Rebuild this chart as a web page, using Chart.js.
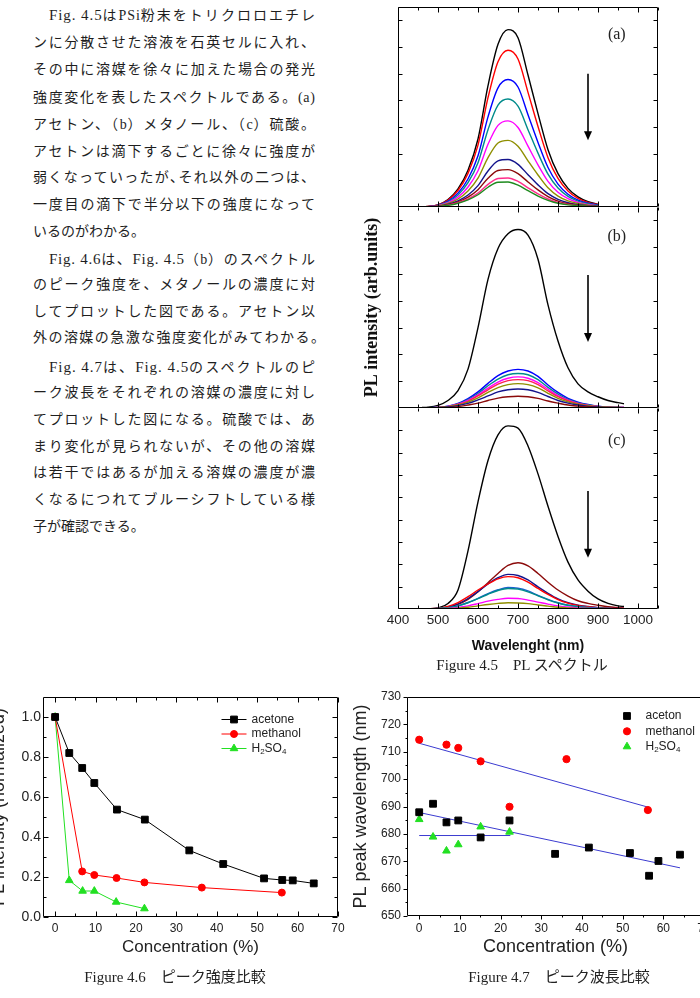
<!DOCTYPE html>
<html><head><meta charset="utf-8">
<script src="https://cdn.jsdelivr.net/npm/chart.js@4.4.1/dist/chart.umd.min.js"></script>
<style>
html,body{margin:0;padding:0;background:#fff;}
body{width:700px;height:998px;position:relative;overflow:hidden;}
.ln{position:absolute;height:20px;line-height:20px;font-family:"Liberation Serif","Noto Sans CJK JP",serif;font-size:14px;color:#1e1e1e;white-space:nowrap;}
.ln .lat{font-size:15px;}
canvas{position:absolute;}
.cap{position:absolute;font-family:"Liberation Serif","Noto Sans CJK JP",serif;font-size:15px;color:#222;white-space:nowrap;transform:translate(-50%,-50%);}
</style>
</head><body>
<div id="text"></div>
<canvas id="pa" width="320" height="208" style="left:350px;top:0px"></canvas>
<canvas id="pb" width="320" height="202" style="left:350px;top:207px"></canvas>
<canvas id="pc" width="320" height="250" style="left:350px;top:408px"></canvas>
<canvas id="f46" width="380" height="318" style="left:-30px;top:680px"></canvas>
<canvas id="f47" width="380" height="318" style="left:350px;top:680px"></canvas>
<div class="cap" style="left:522px;top:663px">Figure 4.5　PL スペクトル</div>
<div class="cap" style="left:175px;top:975px">Figure 4.6　ピーク強度比較</div>
<div class="cap" style="left:559px;top:975px">Figure 4.7　ピーク波長比較</div>
<script>
// ---------------- Figure 4.5 : PL spectra ----------------
const WL_A = [450,475,500,525,550,575,600,625,650,675,700,725,750,775,800,825,850,875,900];
const A_BLACK   = [0.00,0.02,0.08,0.28,0.68,1.38,2.55,4.55,6.10,6.65,6.35,4.95,3.50,2.15,1.25,0.70,0.38,0.20,0.10];
const A_RED     = [0.00,0.02,0.08,0.26,0.62,1.26,2.32,4.10,5.45,5.88,5.55,4.30,3.02,1.85,1.07,0.60,0.32,0.17,0.09];
const A_BLUE    = [0.00,0.01,0.07,0.22,0.52,1.05,1.92,3.38,4.47,4.78,4.50,3.46,2.42,1.48,0.86,0.48,0.26,0.14,0.07];
const A_TEAL    = [0.00,0.01,0.06,0.19,0.45,0.91,1.66,2.90,3.82,4.05,3.78,2.90,2.02,1.23,0.71,0.40,0.22,0.12,0.06];
const A_MAGENTA = [0.00,0.01,0.05,0.16,0.37,0.75,1.36,2.35,3.06,3.23,2.98,2.28,1.58,0.96,0.55,0.31,0.17,0.09,0.05];
const A_OLIVE   = [0.00,0.01,0.04,0.13,0.30,0.60,1.08,1.85,2.40,2.50,2.28,1.73,1.20,0.72,0.41,0.23,0.13,0.07,0.04];
const A_NAVY    = [0.00,0.01,0.03,0.10,0.23,0.45,0.80,1.35,1.73,1.78,1.60,1.21,0.83,0.50,0.29,0.16,0.09,0.05,0.03];
const A_MAROON  = [0.00,0.01,0.03,0.08,0.19,0.37,0.65,1.08,1.37,1.40,1.25,0.94,0.64,0.39,0.22,0.12,0.07,0.04,0.02];
const A_PINK    = [0.00,0.01,0.02,0.07,0.16,0.30,0.52,0.85,1.07,1.09,0.96,0.72,0.49,0.30,0.17,0.10,0.05,0.03,0.02];
const A_GREEN   = [0.00,0.01,0.02,0.06,0.14,0.27,0.46,0.74,0.93,0.94,0.82,0.61,0.41,0.25,0.14,0.08,0.05,0.03,0.02];

const WL_BC = [460,475,500,525,550,575,600,625,650,675,700,725,750,775,800,825,850,875,900,925,950,965];
const B_BLACK   = [0.02,0.03,0.10,0.28,0.65,1.45,3.00,4.80,5.95,6.50,6.66,6.45,5.55,3.85,2.50,1.50,0.90,0.60,0.42,0.28,0.20,0.16];
const B_BLUE    = [0.00,0.01,0.03,0.07,0.17,0.35,0.60,0.92,1.21,1.38,1.44,1.38,1.18,0.86,0.58,0.36,0.22,0.13,0.07,0.04,0.03,0.02];
const B_TEAL    = [0.00,0.01,0.03,0.06,0.15,0.31,0.54,0.83,1.08,1.24,1.29,1.24,1.06,0.77,0.52,0.32,0.19,0.12,0.06,0.04,0.03,0.02];
const B_MAGENTA = [0.00,0.01,0.02,0.06,0.14,0.28,0.49,0.74,0.97,1.11,1.16,1.11,0.95,0.70,0.46,0.29,0.17,0.10,0.06,0.03,0.02,0.02];
const B_RED     = [0.00,0.01,0.02,0.05,0.13,0.25,0.45,0.68,0.89,1.02,1.06,1.02,0.87,0.64,0.42,0.27,0.16,0.10,0.05,0.03,0.02,0.02];
const B_OLIVE   = [0.00,0.00,0.02,0.05,0.11,0.22,0.38,0.58,0.76,0.87,0.91,0.87,0.75,0.55,0.36,0.23,0.14,0.08,0.05,0.03,0.02,0.01];
const B_NAVY    = [0.00,0.00,0.01,0.04,0.09,0.17,0.30,0.45,0.60,0.68,0.71,0.68,0.58,0.43,0.28,0.18,0.11,0.06,0.04,0.02,0.01,0.01];
const B_MAROON  = [0.00,0.00,0.01,0.02,0.05,0.11,0.18,0.28,0.37,0.42,0.44,0.42,0.36,0.26,0.18,0.11,0.07,0.04,0.02,0.01,0.01,0.01];

const C_BLACK   = [0.00,0.01,0.05,0.25,0.85,2.60,4.80,6.65,7.80,8.20,8.10,7.30,6.05,4.60,3.25,2.10,1.30,0.80,0.45,0.25,0.14,0.11];
const C_MAROON  = [0.00,0.00,0.02,0.08,0.21,0.43,0.77,1.18,1.59,1.95,2.07,1.93,1.59,1.20,0.85,0.58,0.37,0.25,0.17,0.10,0.06,0.04];
const C_NAVY    = [0.00,0.01,0.03,0.09,0.23,0.47,0.78,1.12,1.40,1.55,1.50,1.30,0.99,0.70,0.45,0.28,0.17,0.11,0.06,0.04,0.02,0.02];
const C_RED     = [0.00,0.01,0.04,0.12,0.29,0.55,0.85,1.12,1.35,1.45,1.40,1.20,0.92,0.65,0.42,0.26,0.16,0.10,0.06,0.04,0.02,0.02];
const C_BLUE    = [0.00,0.00,0.02,0.06,0.14,0.29,0.48,0.69,0.86,0.96,0.93,0.81,0.61,0.43,0.28,0.17,0.11,0.07,0.04,0.02,0.01,0.01];
const C_TEAL    = [0.00,0.00,0.02,0.06,0.14,0.28,0.46,0.66,0.83,0.92,0.89,0.77,0.59,0.41,0.27,0.17,0.10,0.06,0.04,0.02,0.01,0.01];
const C_MAGENTA = [0.00,0.00,0.01,0.03,0.07,0.14,0.24,0.35,0.43,0.48,0.47,0.40,0.31,0.22,0.14,0.09,0.05,0.03,0.02,0.01,0.01,0.00];
const C_OLIVE   = [0.00,0.00,0.01,0.02,0.04,0.08,0.14,0.20,0.25,0.28,0.27,0.24,0.18,0.13,0.08,0.05,0.03,0.02,0.01,0.01,0.00,0.00];

const WL_TICKS = [400,500,600,700,800,900,1000];
const WL_MINOR = [450,550,650,750,850,950,1050];
const PANEL_AB_TICKS = [1,2,3,4,5,6,7];
const PANEL_C_TICKS = [1,2,3,4,5,6,7,8];

// ---------------- Figure 4.6 : peak intensity ----------------
const CONC_ACETONE_46  = [0, 3.5, 6.7, 9.7, 15.3, 22.2, 33.2, 41.6, 51.7, 56.2, 58.8, 64.0];
const INT_ACETONE      = [1.0, 0.82, 0.745, 0.67, 0.537, 0.487, 0.333, 0.265, 0.193, 0.185, 0.183, 0.168];
const CONC_METHANOL_46 = [0, 6.7, 9.7, 15.2, 22.1, 36.3, 56.1];
const INT_METHANOL     = [1.0, 0.228, 0.21, 0.195, 0.173, 0.147, 0.122];
const CONC_H2SO4_46    = [0, 3.5, 6.8, 9.7, 15.1, 22.1];
const INT_H2SO4        = [1.0, 0.183, 0.13, 0.13, 0.075, 0.042];

// ---------------- Figure 4.7 : peak wavelength ----------------
const CONC_ACETONE_47  = [0, 3.4, 6.7, 9.6, 15.1, 22.2, 33.4, 41.7, 51.8, 56.5, 58.8, 64.1];
const PEAK_ACETONE     = [687.9, 691.0, 684.2, 684.9, 678.7, 684.9, 672.7, 675.0, 673.0, 664.7, 670.1, 672.4];
const CONC_METHANOL_47 = [0, 6.7, 9.6, 15.1, 22.2, 36.2, 56.2];
const PEAK_METHANOL    = [714.4, 712.6, 711.4, 706.5, 689.9, 707.3, 688.7];
const CONC_H2SO4_47    = [0, 3.4, 6.7, 9.6, 15.1, 22.2];
const PEAK_H2SO4       = [685.3, 678.9, 673.8, 676.1, 682.6, 680.7];
const FIT_ACETONE_X  = [0, 64.1];  const FIT_ACETONE_Y  = [687.8, 667.6];
const FIT_METHANOL_X = [0, 56.4];  const FIT_METHANOL_Y = [713.1, 689.7];
const FIT_H2SO4_X    = [0, 22.4];  const FIT_H2SO4_Y    = [679.4, 679.4];

const CONC_TICKS = [0,10,20,30,40,50,60,70];
const CONC_MINOR = [5,15,25,35,45,55,65];
const INT_TICKS = [0,0.2,0.4,0.6,0.8,1.0];
const INT_MINOR = [0.1,0.3,0.5,0.7,0.9];
const WAVE_TICKS = [650,660,670,680,690,700,710,720,730];
const WAVE_MINOR = [655,665,675,685,695,705,715,725];

// ---------------- body text ----------------
const TEXT_LINES = [
 ["Fig. 4.5はPSi粉末をトリクロロエチレ",1,1,15],
 ["ンに分散させた溶液を石英セルに入れ、",0,1,42.7],
 ["その中に溶媒を徐々に加えた場合の発光",0,1,70],
 ["強度変化を表したスペクトルである。(a)",0,1,97.5],
 ["アセトン、（b）メタノール、（c）硫酸。",0,1,125],
 ["アセトンは滴下するごとに徐々に強度が",0,1,151.7],
 ["弱くなっていったが､それ以外の二つは、",0,1,178.3],
 ["一度目の滴下で半分以下の強度になって",0,1,205],
 ["いるのがわかる。",0,0,231.7],
 ["Fig. 4.6は、Fig. 4.5（b）のスペクトル",1,1,258.5],
 ["のピーク強度を、メタノールの濃度に対",0,1,285],
 ["してプロットした図である。アセトン以",0,1,311.7],
 ["外の溶媒の急激な強度変化がみてわかる。",0,2,338.3],
 ["Fig. 4.7は、Fig. 4.5のスペクトルのピ",1,1,367],
 ["ーク波長をそれぞれの溶媒の濃度に対し",0,1,393.3],
 ["てプロットした図になる。硫酸では、あ",0,1,420],
 ["まり変化が見られないが、その他の溶媒",0,1,446.7],
 ["は若干ではあるが加える溶媒の濃度が濃",0,1,473.3],
 ["くなるにつれてブルーシフトしている様",0,1,500],
 ["子が確認できる。",0,0,526.7]
];
(function(){
  const host = document.getElementById('text');
  const LAT_W = 0.45;
  TEXT_LINES.forEach(([t, ind, just, cy]) => {
    const d = document.createElement('div');
    d.className = 'ln';
    const left = ind ? 49 : 33;
    d.style.left = left + 'px';
    d.style.top = (cy - 10) + 'px';
    const runs = t.match(/[\x00-\x7F]+|[^\x00-\x7F]+/g);
    const spans = [];
    runs.forEach(r => {
      const s = document.createElement('span');
      s.textContent = r;
      const isLat = !/[^\x00-\x7F]/.test(r);
      if (isLat && r.length > 3) s.className = 'lat';
      d.appendChild(s);
      spans.push([s, isLat, [...r].length]);
    });
    host.appendChild(d);
    if (just) {
      const target = (just === 2 ? 325 : 315) - left;
      const nat = d.getBoundingClientRect().width;
      let w = 0;
      spans.forEach(([s, lat, n]) => { w += (lat ? LAT_W : 1) * n; });
      w -= /[^\x00-\x7F]$/.test(t) ? 1 : LAT_W;
      const ls = (target - nat) / Math.max(w, 1);
      spans.forEach(([s, lat]) => { s.style.letterSpacing = (lat ? ls * LAT_W : ls) + 'px'; });
    }
  });
})();

// ---------------- plugins ----------------
function crisp(v){ return Math.round(v) + 0.5; }
const framePlugin = {
  id: 'frame',
  afterDatasetsDraw(chart, args, o) {
    if (!o || !o.box) return;
    const {ctx, chartArea: a, scales} = chart;
    const L = crisp(a.left), R = crisp(a.right - 1), T = crisp(a.top), B = crisp(a.bottom - 1);
    ctx.save();
    ctx.strokeStyle = '#000';
    ctx.lineWidth = 1;
    ctx.beginPath();
    if (o.box.includes('l')) { ctx.moveTo(L, T); ctx.lineTo(L, B); }
    if (o.box.includes('r')) { ctx.moveTo(R, T); ctx.lineTo(R, B); }
    if (o.box.includes('t')) { ctx.moveTo(L, T); ctx.lineTo(R, T); }
    if (o.box.includes('b')) { ctx.moveTo(L, B); ctx.lineTo(R, B); }
    (o.marks || []).forEach(m => {
      const sc = scales[m.axis];
      m.values.forEach(v => {
        if (v < sc.min || v > sc.max) return;
        const p = crisp(sc.getPixelForValue(v));
        const s = m.dir === 'in' ? 1 : -1;
        m.sides.forEach(side => {
          if (side === 'b') { ctx.moveTo(p, B); ctx.lineTo(p, B - s*m.len); }
          if (side === 't') { ctx.moveTo(p, T); ctx.lineTo(p, T + s*m.len); }
          if (side === 'l') { ctx.moveTo(L, p); ctx.lineTo(L + s*m.len, p); }
          if (side === 'r') { ctx.moveTo(R, p); ctx.lineTo(R - s*m.len, p); }
        });
      });
    });
    ctx.stroke();
    ctx.restore();
  }
};
const decoPlugin = {
  id: 'deco',
  afterDatasetsDraw(chart, args, o) {
    if (!o || !o.arrow) return;
    const xs = chart.scales.x, ys = chart.scales.y, ctx = chart.ctx;
    const x = Math.round(xs.getPixelForValue(o.arrow.x));
    const y1 = ys.getPixelForValue(o.arrow.from), y2 = ys.getPixelForValue(o.arrow.to);
    ctx.save();
    ctx.strokeStyle = '#000'; ctx.fillStyle = '#000'; ctx.lineWidth = 1.6;
    ctx.beginPath(); ctx.moveTo(x, y1); ctx.lineTo(x, y2 - 7); ctx.stroke();
    ctx.beginPath(); ctx.moveTo(x - 4, y2 - 9); ctx.lineTo(x + 4, y2 - 9); ctx.lineTo(x, y2); ctx.closePath(); ctx.fill();
    ctx.font = '16px "Liberation Serif", serif';
    ctx.textAlign = 'center'; ctx.textBaseline = 'middle';
    ctx.fillStyle = '#222';
    ctx.fillText(o.label.text, xs.getPixelForValue(o.label.x), ys.getPixelForValue(o.label.y));
    ctx.restore();
  }
};
function drawMarker(ctx, style, x, y, r, fill, stroke) {
  ctx.save();
  ctx.fillStyle = fill; ctx.strokeStyle = stroke; ctx.lineWidth = 1;
  ctx.beginPath();
  if (style === 'rect') {
    const h = r * Math.SQRT1_2;
    ctx.rect(x - h, y - h, 2*h, 2*h);
  } else if (style === 'triangle') {
    for (let k = 0; k < 3; k++) {
      const ang = -Math.PI/2 + k * 2*Math.PI/3;
      const px = x + Math.cos(ang)*r, py = y + Math.sin(ang)*r;
      if (k === 0) ctx.moveTo(px, py); else ctx.lineTo(px, py);
    }
    ctx.closePath();
  } else {
    ctx.arc(x, y, r, 0, Math.PI*2);
  }
  ctx.fill(); ctx.stroke();
  ctx.restore();
}
function drawRich(ctx, text, x, y, size, family) {
  let cx = x;
  const parts = [];
  for (let i = 0; i < text.length; i++) {
    if (text[i] === '_' && i + 1 < text.length) { parts.push([text[i+1], true]); i++; }
    else parts.push([text[i], false]);
  }
  ctx.textBaseline = 'middle'; ctx.textAlign = 'left';
  parts.forEach(([ch, sub]) => {
    ctx.font = (sub ? Math.round(size*0.68) : size) + 'px ' + family;
    ctx.fillText(ch, cx, sub ? y + size*0.3 : y);
    cx += ctx.measureText(ch).width;
  });
}
const keyPlugin = {
  id: 'key',
  afterDatasetsDraw(chart, args, o) {
    if (!o || !o.items) return;
    const a = chart.chartArea, ctx = chart.ctx;
    o.items.forEach((dsIndex, i) => {
      const ds = chart.data.datasets[dsIndex];
      const cx = a.left + o.dx, cy = a.top + o.dy + i * o.step;
      if (o.lineLen) {
        ctx.save(); ctx.strokeStyle = ds.borderColor; ctx.lineWidth = ds.borderWidth;
        ctx.beginPath(); ctx.moveTo(cx - o.lineLen/2, cy); ctx.lineTo(cx + o.lineLen/2, cy); ctx.stroke(); ctx.restore();
      }
      drawMarker(ctx, ds.pointStyle, cx, cy, ds.pointRadius, ds.pointBackgroundColor, ds.pointBorderColor);
      ctx.save(); ctx.fillStyle = '#222';
      drawRich(ctx, ds.label, cx + o.textDx, cy, o.size, '"Liberation Sans", Arial, sans-serif');
      ctx.restore();
    });
  }
};
Chart.register(framePlugin, decoPlugin, keyPlugin);
Chart.defaults.font.family = '"Liberation Sans", Arial, sans-serif';
Chart.defaults.color = '#222';

const SANS = '"Liberation Sans", Arial, sans-serif';
function pts(xs, ys) { return xs.map((x, i) => ({x: x, y: ys[i]})); }

// ---------------- spectrum panels ----------------
function panel(id, wl, series, yMax, yTicks, cfg) {
  const datasets = series.map(s => ({
    data: pts(wl, s[0]), borderColor: s[1], borderWidth: 1.4, pointRadius: 0,
    cubicInterpolationMode: 'monotone', fill: false
  }));
  const xAxis = {type: 'linear', min: 400, max: 1050, display: !!cfg.xTitle,
    grid: {display: false, drawTicks: false}, border: {display: false},
    afterBuildTicks: s => { s.ticks = WL_TICKS.map(v => ({value: v})); },
    ticks: {font: {family: SANS, size: 13.5}, color: '#222', padding: 3, maxRotation: 0, autoSkip: false,
            callback: v => String(v)}
  };
  if (cfg.xTitle) {
    xAxis.title = {display: true, text: cfg.xTitle, font: {family: SANS, size: 14, weight: 'bold'}, color: '#111', padding: {top: 0, bottom: 3}};
    xAxis.afterFit = s => { s.height = 49; };
  }
  const yAxis = {type: 'linear', min: 0, max: yMax, display: !!cfg.yTitle,
    grid: {display: false, drawTicks: false}, border: {display: false}, ticks: {display: false}};
  if (cfg.yTitle) {
    yAxis.title = {display: true, text: cfg.yTitle, font: {family: '"Liberation Serif", serif', size: 18, weight: 'bold'}, color: '#111', padding: {top: 12, bottom: 0}};
    yAxis.afterFit = s => { s.width = 48; };
  }
  return new Chart(document.getElementById(id), {
    type: 'line',
    data: {datasets: datasets},
    options: {
      responsive: false, animation: false, events: [],
      layout: {padding: cfg.padding},
      plugins: {
        legend: {display: false}, tooltip: {enabled: false},
        frame: {box: cfg.box, marks: [
          {axis: 'x', values: WL_TICKS, len: 5, sides: ['t','b'], dir: 'in'},
          {axis: 'x', values: WL_MINOR, len: 3, sides: ['t','b'], dir: 'in'},
          {axis: 'y', values: yTicks, len: 4, sides: ['l','r'], dir: 'in'}
        ]},
        deco: {arrow: cfg.arrow, label: cfg.label}
      },
      scales: {x: xAxis, y: yAxis}
    }
  });
}

panel('pa', WL_A, [
  [A_GREEN,'#1e8a1e'],[A_PINK,'#ff2d8a'],[A_MAROON,'#8b0a0a'],[A_NAVY,'#14148c'],[A_OLIVE,'#8f8f00'],
  [A_MAGENTA,'#ff00ff'],[A_TEAL,'#008b8b'],[A_BLUE,'#0000ff'],[A_RED,'#ff0000'],[A_BLACK,'#000000']
], 7.5, PANEL_AB_TICKS, {
  padding: {left: 48, right: 12, top: 7, bottom: 1}, box: 'lrtb',
  arrow: {x: 875, from: 5.0, to: 2.5}, label: {text: '(a)', x: 947, y: 6.46}
});

panel('pb', WL_BC, [
  [B_MAROON,'#8b0a0a'],[B_NAVY,'#14148c'],[B_OLIVE,'#8f8f00'],[B_RED,'#ff2050'],[B_MAGENTA,'#ff00ff'],
  [B_TEAL,'#008b8b'],[B_BLUE,'#0000ff'],[B_BLACK,'#000000']
], 7.5, PANEL_AB_TICKS, {
  padding: {left: 0, right: 12, top: 0, bottom: 1}, box: 'lrb', yTitle: 'PL intensity (arb.units)',
  arrow: {x: 875, from: 4.96, to: 2.46}, label: {text: '(b)', x: 947, y: 6.39}
});

panel('pc', WL_BC, [
  [C_OLIVE,'#8f8f00'],[C_MAGENTA,'#ff00ff'],[C_TEAL,'#008b8b'],[C_BLUE,'#1f5fd0'],[C_RED,'#ff0000'],
  [C_NAVY,'#14148c'],[C_MAROON,'#8b0a0a'],[C_BLACK,'#000000']
], 9, PANEL_C_TICKS, {
  padding: {left: 48, right: 12, top: 0, bottom: 0}, box: 'lrb', xTitle: 'Wavelenght (nm)',
  arrow: {x: 875, from: 5.28, to: 2.3}, label: {text: '(c)', x: 947, y: 7.52}
});

// ---------------- Figure 4.6 ----------------
new Chart(document.getElementById('f46'), {
  type: 'line',
  data: {datasets: [
    {label: 'acetone', data: pts(CONC_ACETONE_46, INT_ACETONE), borderColor: '#000', borderWidth: 1,
     pointStyle: 'rect', pointRadius: 4.8, pointBackgroundColor: '#000', pointBorderColor: '#000', tension: 0},
    {label: 'methanol', data: pts(CONC_METHANOL_46, INT_METHANOL), borderColor: '#ff0000', borderWidth: 1,
     pointStyle: 'circle', pointRadius: 3.5, pointBackgroundColor: '#ff0000', pointBorderColor: '#ff0000', tension: 0},
    {label: 'H_2SO_4', data: pts(CONC_H2SO4_46, INT_H2SO4), borderColor: '#22e022', borderWidth: 1,
     pointStyle: 'triangle', pointRadius: 4.4, pointBackgroundColor: '#22e022', pointBorderColor: '#22e022', tension: 0}
  ]},
  options: {
    responsive: false, animation: false, events: [],
    layout: {padding: {top: 17, right: 12, bottom: 0, left: 0}},
    plugins: {
      legend: {display: false}, tooltip: {enabled: false},
      frame: {box: 'lrtb', marks: [
        {axis: 'x', values: CONC_TICKS, len: 5, sides: ['t','b'], dir: 'in'},
        {axis: 'x', values: CONC_MINOR, len: 3, sides: ['t','b'], dir: 'in'},
        {axis: 'y', values: INT_TICKS, len: 5, sides: ['l','r'], dir: 'in'},
        {axis: 'y', values: INT_MINOR, len: 3, sides: ['l','r'], dir: 'in'}
      ]},
      key: {items: [0,1,2], dx: 191, dy: 22.5, step: 14.5, lineLen: 25, textDx: 17.5, size: 12}
    },
    scales: {
      x: {type: 'linear', min: -3, max: 70,
        grid: {display: false, drawTicks: false}, border: {display: false},
        afterBuildTicks: s => { s.ticks = CONC_TICKS.map(v => ({value: v})); },
        ticks: {font: {family: SANS, size: 12}, color: '#222', padding: 4, maxRotation: 0, autoSkip: false},
        title: {display: true, text: 'Concentration (%)', font: {family: SANS, size: 17}, color: '#222', padding: {top: 0, bottom: 40}},
        afterFit: s => { s.height = 81; }
      },
      y: {type: 'linear', min: 0, max: 1.1,
        grid: {display: false, drawTicks: false}, border: {display: false},
        afterBuildTicks: s => { s.ticks = INT_TICKS.map(v => ({value: v})); },
        ticks: {font: {family: SANS, size: 14}, color: '#222', padding: 2, callback: v => Number(v).toFixed(1)},
        title: {display: true, text: 'PL intensity (normalized)', font: {family: SANS, size: 18}, color: '#222', padding: {top: 18, bottom: 0}},
        afterFit: s => { s.width = 73; }
      }
    }
  }
});

// ---------------- Figure 4.7 ----------------
new Chart(document.getElementById('f47'), {
  type: 'line',
  data: {datasets: [
    {label: 'aceton', data: pts(CONC_ACETONE_47, PEAK_ACETONE), showLine: false,
     pointStyle: 'rect', pointRadius: 4.8, pointBackgroundColor: '#000', pointBorderColor: '#000'},
    {label: 'methanol', data: pts(CONC_METHANOL_47, PEAK_METHANOL), showLine: false,
     pointStyle: 'circle', pointRadius: 3.6, pointBackgroundColor: '#ff0000', pointBorderColor: '#ff0000'},
    {label: 'H_2SO_4', data: pts(CONC_H2SO4_47, PEAK_H2SO4), showLine: false,
     pointStyle: 'triangle', pointRadius: 4.4, pointBackgroundColor: '#22e022', pointBorderColor: '#22e022'},
    {data: pts(FIT_ACETONE_X, FIT_ACETONE_Y), borderColor: '#3b3bd0', borderWidth: 1, pointRadius: 0, tension: 0},
    {data: pts(FIT_METHANOL_X, FIT_METHANOL_Y), borderColor: '#3b3bd0', borderWidth: 1, pointRadius: 0, tension: 0},
    {data: pts(FIT_H2SO4_X, FIT_H2SO4_Y), borderColor: '#3b3bd0', borderWidth: 1, pointRadius: 0, tension: 0}
  ]},
  options: {
    responsive: false, animation: false, events: [],
    layout: {padding: {top: 17, right: 26, bottom: 0, left: 0}},
    plugins: {
      legend: {display: false}, tooltip: {enabled: false},
      frame: {box: 'lrtb', marks: [
        {axis: 'x', values: CONC_TICKS, len: 4, sides: ['b'], dir: 'out'},
        {axis: 'x', values: CONC_MINOR, len: 2, sides: ['b'], dir: 'out'},
        {axis: 'y', values: WAVE_TICKS, len: 4, sides: ['l'], dir: 'out'},
        {axis: 'y', values: WAVE_MINOR, len: 2, sides: ['l'], dir: 'out'}
      ]},
      key: {items: [0,1,2], dx: 220, dy: 19, step: 15.3, lineLen: 0, textDx: 18.5, size: 12}
    },
    scales: {
      x: {type: 'linear', min: -3, max: 70,
        grid: {display: false, drawTicks: false}, border: {display: false},
        afterBuildTicks: s => { s.ticks = CONC_TICKS.map(v => ({value: v})); },
        ticks: {font: {family: SANS, size: 12}, color: '#222', padding: 5, maxRotation: 0, autoSkip: false},
        title: {display: true, text: 'Concentration (%)', font: {family: SANS, size: 18}, color: '#222', padding: {top: 0, bottom: 40}},
        afterFit: s => { s.height = 82; }
      },
      y: {type: 'linear', min: 650, max: 730,
        grid: {display: false, drawTicks: false}, border: {display: false},
        afterBuildTicks: s => { s.ticks = WAVE_TICKS.map(v => ({value: v})); },
        ticks: {font: {family: SANS, size: 12}, color: '#222', padding: 6},
        title: {display: true, text: 'PL peak wavelength (nm)', font: {family: SANS, size: 18}, color: '#222', padding: {top: 0, bottom: 0}},
        afterFit: s => { s.width = 57; }
      }
    }
  }
});
</script>
</body></html>
